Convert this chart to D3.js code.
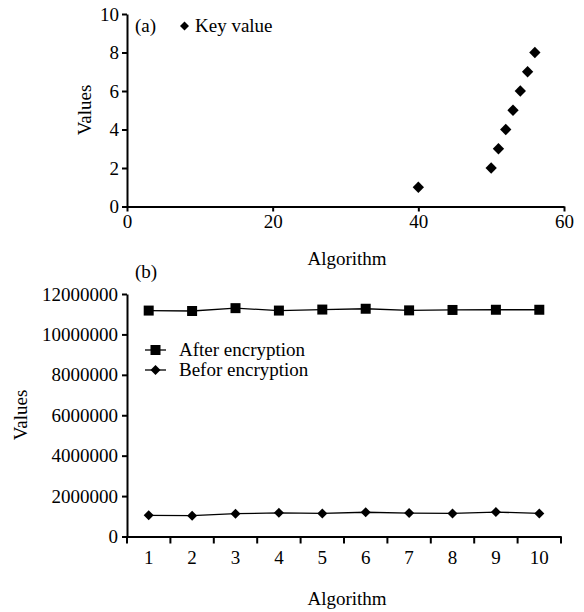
<!DOCTYPE html>
<html><head><meta charset="utf-8">
<script src="https://cdn.jsdelivr.net/npm/d3@7/dist/d3.min.js"></script>
<style>
body{margin:0;background:#fff;}
text{font-family:"Liberation Serif","Times New Roman",serif;fill:#000;}
</style></head>
<body>
<svg id="c" width="584" height="612"></svg>
<script>
// Panel (a) data
const keyX = [40, 50, 51, 52, 53, 54, 55, 56];
const keyY = [1, 2, 3, 4, 5, 6, 7, 8];
const aXTicks = [0, 20, 40, 60];
const aYTicks = [0, 2, 4, 6, 8, 10];
// Panel (b) data
const algorithms = ["1","2","3","4","5","6","7","8","9","10"];
const afterEnc = [11180000, 11160000, 11300000, 11180000, 11230000, 11270000, 11190000, 11210000, 11220000, 11220000];
const beforeEnc = [1050000, 1030000, 1130000, 1170000, 1140000, 1200000, 1160000, 1140000, 1210000, 1140000];
const bYTicks = [0, 2000000, 4000000, 6000000, 8000000, 10000000, 12000000];

const svg = d3.select("#c");
const FS = 19;

// ---------- Panel (a) ----------
const ax = d3.scaleLinear().domain([0, 60]).range([127, 564]);
const ay = d3.scaleLinear().domain([0, 10]).range([206.5, 14]);

const gaX = svg.append("g").attr("transform", `translate(0,${ay(0)})`)
  .call(d3.axisBottom(ax).tickValues(aXTicks).tickSize(5).tickSizeOuter(0).tickPadding(3));
const gaY = svg.append("g").attr("transform", `translate(${ax(0)},0)`)
  .call(d3.axisLeft(ay).tickValues(aYTicks).tickSize(5).tickSizeOuter(0).tickPadding(3));
[gaX, gaY].forEach(g => {
  g.selectAll("path.domain").attr("stroke", "#000").attr("stroke-width", 2);
  g.selectAll(".tick line").attr("stroke", "#000").attr("stroke-width", 2);
  g.selectAll(".tick text").attr("font-size", FS).attr("font-family", "Liberation Serif");
});

const diamondA = d3.symbol().type(d3.symbolSquare).size(64);
svg.append("g").selectAll("path").data(keyX).join("path")
  .attr("d", diamondA)
  .attr("transform", (d, i) => `translate(${ax(d)},${ay(keyY[i])}) rotate(45)`)
  .attr("fill", "#000");

svg.append("text").attr("x", 135).attr("y", 32).attr("font-size", FS).text("(a)");
svg.append("path").attr("d", d3.symbol().type(d3.symbolSquare).size(40))
  .attr("transform", "translate(184.5,26) rotate(45)").attr("fill", "#000");
svg.append("text").attr("x", 195).attr("y", 32).attr("font-size", FS).text("Key value");

svg.append("text").attr("x", 347).attr("y", 265).attr("text-anchor", "middle").attr("font-size", FS).text("Algorithm");
svg.append("text").attr("transform", "translate(91,110) rotate(-90)").attr("text-anchor", "middle").attr("font-size", FS).text("Values");

// ---------- Panel (b) ----------
const bx = d3.scaleBand().domain(algorithms).range([127, 561]);
const by = d3.scaleLinear().domain([0, 12000000]).range([536.5, 294]);

const gbX = svg.append("g").attr("transform", `translate(0,${by(0)})`)
  .call(d3.axisBottom(bx).tickSize(0).tickPadding(14));
// boundary tick marks between bands
gbX.selectAll("line.bt").data(d3.range(algorithms.length + 1)).join("line")
  .attr("class", "bt")
  .attr("x1", i => 127 + i * bx.step()).attr("x2", i => 127 + i * bx.step())
  .attr("y1", 0).attr("y2", 7).attr("stroke", "#000").attr("stroke-width", 2);
const gbY = svg.append("g").attr("transform", `translate(127,0)`)
  .call(d3.axisLeft(by).tickValues(bYTicks).tickFormat(d3.format("d")).tickSize(5).tickSizeOuter(0).tickPadding(4));
[gbX, gbY].forEach(g => {
  g.selectAll("path.domain").attr("stroke", "#000").attr("stroke-width", 2);
  g.selectAll(".tick line").attr("stroke", "#000").attr("stroke-width", 2);
  g.selectAll(".tick text").attr("font-size", FS).attr("font-family", "Liberation Serif");
});

const cx = d => bx(d) + bx.bandwidth() / 2;
const line = d3.line().x(d => cx(d[0])).y(d => by(d[1]));
svg.append("path").datum(algorithms.map((a, i) => [a, afterEnc[i]]))
  .attr("d", line).attr("fill", "none").attr("stroke", "#000").attr("stroke-width", 1.3);
svg.append("path").datum(algorithms.map((a, i) => [a, beforeEnc[i]]))
  .attr("d", line).attr("fill", "none").attr("stroke", "#000").attr("stroke-width", 1.3);

const sq = d3.symbol().type(d3.symbolSquare).size(100);
const dm = d3.symbol().type(d3.symbolSquare).size(50);
svg.append("g").selectAll("path").data(algorithms).join("path")
  .attr("d", sq).attr("transform", (d, i) => `translate(${cx(d)},${by(afterEnc[i])})`).attr("fill", "#000");
svg.append("g").selectAll("path").data(algorithms).join("path")
  .attr("d", dm).attr("transform", (d, i) => `translate(${cx(d)},${by(beforeEnc[i])}) rotate(45)`).attr("fill", "#000");

// legend (b)
const leg = svg.append("g");
[["After encryption", sq, 0, 350], ["Befor encryption", dm, 45, 370]].forEach(([lab, sym, rot, yy]) => {
  leg.append("line").attr("x1", 145).attr("x2", 166).attr("y1", yy).attr("y2", yy).attr("stroke", "#000").attr("stroke-width", 1.3);
  leg.append("path").attr("d", sym).attr("transform", `translate(155.5,${yy}) rotate(${rot})`).attr("fill", "#000");
  leg.append("text").attr("x", 179).attr("y", yy + 6).attr("font-size", FS).text(lab);
});

svg.append("text").attr("x", 135).attr("y", 278).attr("font-size", FS).text("(b)");
svg.append("text").attr("x", 347).attr("y", 605).attr("text-anchor", "middle").attr("font-size", FS).text("Algorithm");
svg.append("text").attr("transform", "translate(27,415) rotate(-90)").attr("text-anchor", "middle").attr("font-size", FS).text("Values");
</script>
</body></html>
